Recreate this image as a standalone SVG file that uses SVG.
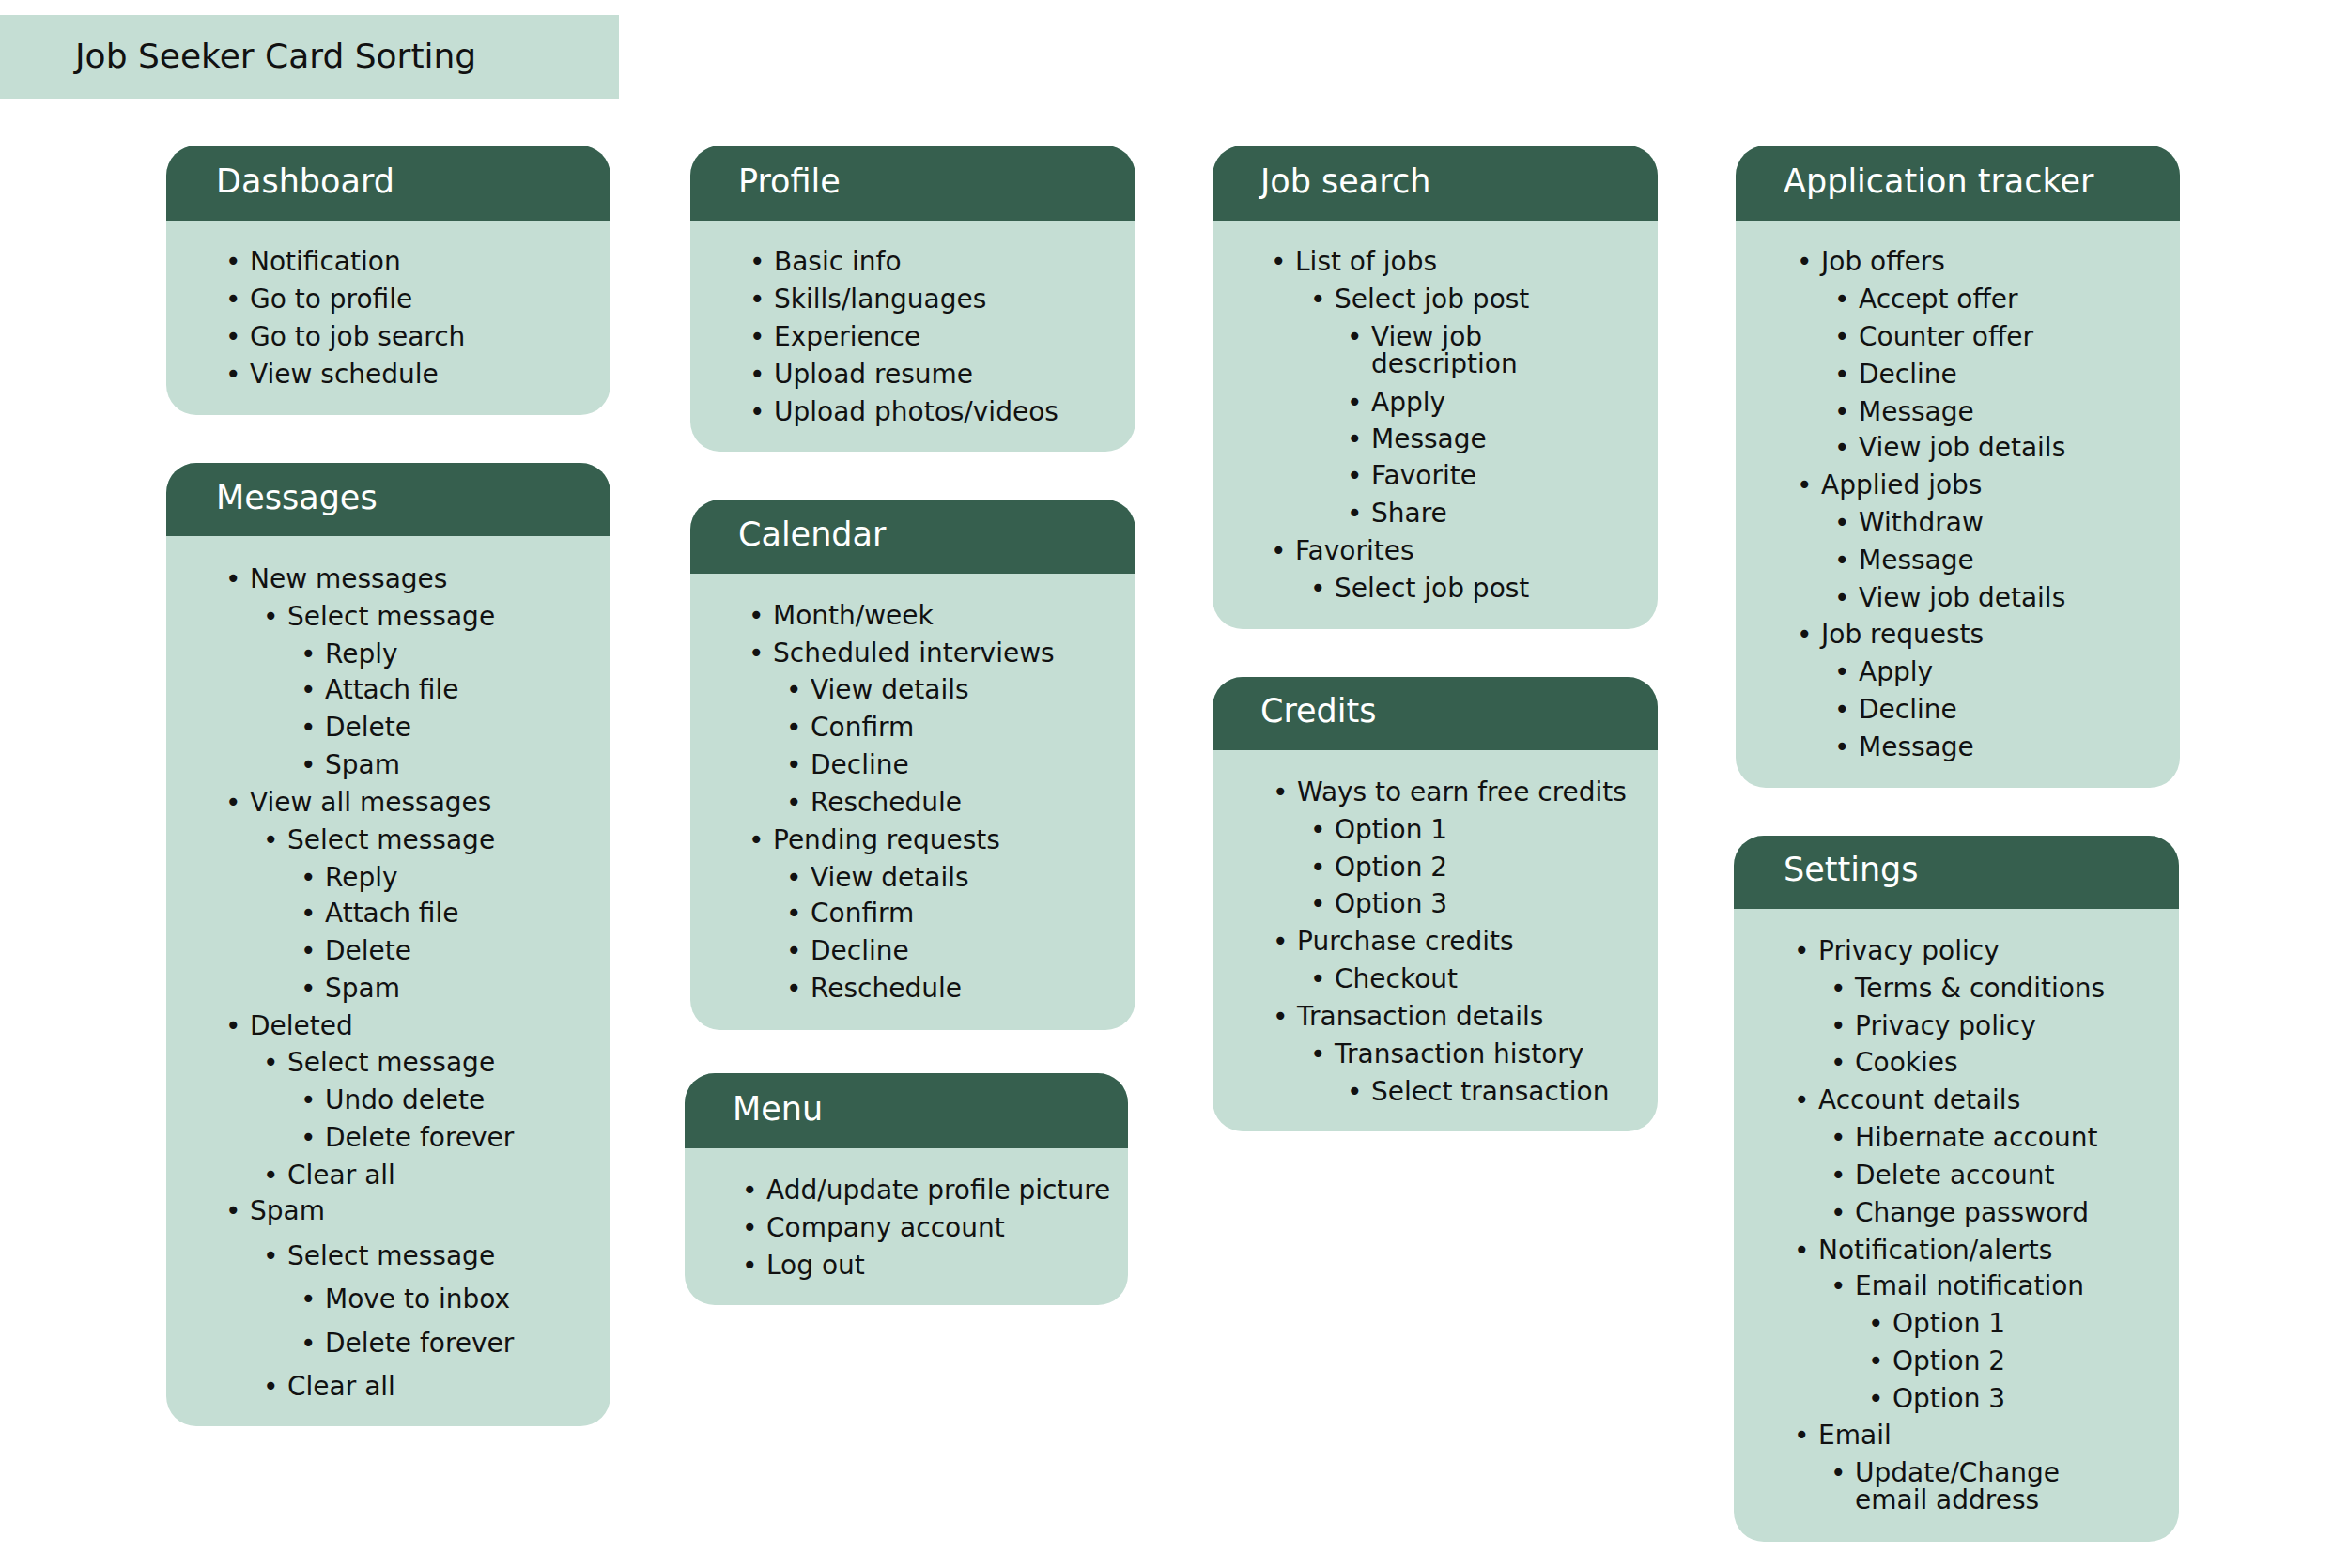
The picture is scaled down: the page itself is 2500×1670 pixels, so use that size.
<svg xmlns="http://www.w3.org/2000/svg" width="2500" height="1670" viewBox="0 0 2500 1670">
<style>
.bg{fill:#ffffff}
.banner{fill:#C5DED4}
.body{fill:#C5DED4}
.head{fill:#365F4E}
.ttl{font-family:"DejaVu Sans",sans-serif;font-size:35px;fill:#ffffff}
.main{font-family:"DejaVu Sans",sans-serif;font-size:36px;fill:#111111}
.it{font-family:"DejaVu Sans",sans-serif;font-size:28px;fill:#111111}
</style>
<rect class="bg" x="0" y="0" width="2500" height="1670"/>
<g id="banner">
<rect class="banner" x="0" y="16" width="659" height="89"/>
<text class="main" x="80" y="72">Job Seeker Card Sorting</text>
</g>
<g id="connectors"/>

<g id="dashboard">
<rect class="body" x="177" y="155" width="473" height="287" rx="32"/>
<path class="head" d="M177,235 V187 a32,32 0 0 1 32,-32 H618 a32,32 0 0 1 32,32 V235 Z"/>
<text class="ttl" x="230" y="205">Dashboard</text>
<text class="it" y="288"><tspan x="240">•</tspan><tspan x="266">Notification</tspan></text>
<text class="it" y="328"><tspan x="240">•</tspan><tspan x="266">Go to profile</tspan></text>
<text class="it" y="368"><tspan x="240">•</tspan><tspan x="266">Go to job search</tspan></text>
<text class="it" y="408"><tspan x="240">•</tspan><tspan x="266">View schedule</tspan></text>
</g>

<g id="messages">
<rect class="body" x="177" y="493" width="473" height="1026" rx="32"/>
<path class="head" d="M177,571 V525 a32,32 0 0 1 32,-32 H618 a32,32 0 0 1 32,32 V571 Z"/>
<text class="ttl" x="230" y="542">Messages</text>
<text class="it" y="626"><tspan x="240">•</tspan><tspan x="266">New messages</tspan></text>
<text class="it" y="666"><tspan x="280">•</tspan><tspan x="306">Select message</tspan></text>
<text class="it" y="706"><tspan x="320">•</tspan><tspan x="346">Reply</tspan></text>
<text class="it" y="744"><tspan x="320">•</tspan><tspan x="346">Attach file</tspan></text>
<text class="it" y="784"><tspan x="320">•</tspan><tspan x="346">Delete</tspan></text>
<text class="it" y="824"><tspan x="320">•</tspan><tspan x="346">Spam</tspan></text>
<text class="it" y="864"><tspan x="240">•</tspan><tspan x="266">View all messages</tspan></text>
<text class="it" y="904"><tspan x="280">•</tspan><tspan x="306">Select message</tspan></text>
<text class="it" y="944"><tspan x="320">•</tspan><tspan x="346">Reply</tspan></text>
<text class="it" y="982"><tspan x="320">•</tspan><tspan x="346">Attach file</tspan></text>
<text class="it" y="1022"><tspan x="320">•</tspan><tspan x="346">Delete</tspan></text>
<text class="it" y="1062"><tspan x="320">•</tspan><tspan x="346">Spam</tspan></text>
<text class="it" y="1102"><tspan x="240">•</tspan><tspan x="266">Deleted</tspan></text>
<text class="it" y="1141"><tspan x="280">•</tspan><tspan x="306">Select message</tspan></text>
<text class="it" y="1181"><tspan x="320">•</tspan><tspan x="346">Undo delete</tspan></text>
<text class="it" y="1221"><tspan x="320">•</tspan><tspan x="346">Delete forever</tspan></text>
<text class="it" y="1261"><tspan x="280">•</tspan><tspan x="306">Clear all</tspan></text>
<text class="it" y="1299"><tspan x="240">•</tspan><tspan x="266">Spam</tspan></text>
<text class="it" y="1347"><tspan x="280">•</tspan><tspan x="306">Select message</tspan></text>
<text class="it" y="1393"><tspan x="320">•</tspan><tspan x="346">Move to inbox</tspan></text>
<text class="it" y="1440"><tspan x="320">•</tspan><tspan x="346">Delete forever</tspan></text>
<text class="it" y="1486"><tspan x="280">•</tspan><tspan x="306">Clear all</tspan></text>
</g>

<g id="profile">
<rect class="body" x="735" y="155" width="474" height="326" rx="32"/>
<path class="head" d="M735,235 V187 a32,32 0 0 1 32,-32 H1177 a32,32 0 0 1 32,32 V235 Z"/>
<text class="ttl" x="786" y="205">Profile</text>
<text class="it" y="288"><tspan x="798">•</tspan><tspan x="824">Basic info</tspan></text>
<text class="it" y="328"><tspan x="798">•</tspan><tspan x="824">Skills/languages</tspan></text>
<text class="it" y="368"><tspan x="798">•</tspan><tspan x="824">Experience</tspan></text>
<text class="it" y="408"><tspan x="798">•</tspan><tspan x="824">Upload resume</tspan></text>
<text class="it" y="448"><tspan x="798">•</tspan><tspan x="824">Upload photos/videos</tspan></text>
</g>

<g id="calendar">
<rect class="body" x="735" y="532" width="474" height="565" rx="32"/>
<path class="head" d="M735,611 V564 a32,32 0 0 1 32,-32 H1177 a32,32 0 0 1 32,32 V611 Z"/>
<text class="ttl" x="786" y="581">Calendar</text>
<text class="it" y="665"><tspan x="797">•</tspan><tspan x="823">Month/week</tspan></text>
<text class="it" y="705"><tspan x="797">•</tspan><tspan x="823">Scheduled interviews</tspan></text>
<text class="it" y="744"><tspan x="837">•</tspan><tspan x="863">View details</tspan></text>
<text class="it" y="784"><tspan x="837">•</tspan><tspan x="863">Confirm</tspan></text>
<text class="it" y="824"><tspan x="837">•</tspan><tspan x="863">Decline</tspan></text>
<text class="it" y="864"><tspan x="837">•</tspan><tspan x="863">Reschedule</tspan></text>
<text class="it" y="904"><tspan x="797">•</tspan><tspan x="823">Pending requests</tspan></text>
<text class="it" y="944"><tspan x="837">•</tspan><tspan x="863">View details</tspan></text>
<text class="it" y="982"><tspan x="837">•</tspan><tspan x="863">Confirm</tspan></text>
<text class="it" y="1022"><tspan x="837">•</tspan><tspan x="863">Decline</tspan></text>
<text class="it" y="1062"><tspan x="837">•</tspan><tspan x="863">Reschedule</tspan></text>
</g>

<g id="menu">
<rect class="body" x="729" y="1143" width="472" height="247" rx="32"/>
<path class="head" d="M729,1223 V1175 a32,32 0 0 1 32,-32 H1169 a32,32 0 0 1 32,32 V1223 Z"/>
<text class="ttl" x="780" y="1193">Menu</text>
<text class="it" y="1277"><tspan x="790">•</tspan><tspan x="816">Add/update profile picture</tspan></text>
<text class="it" y="1317"><tspan x="790">•</tspan><tspan x="816">Company account</tspan></text>
<text class="it" y="1357"><tspan x="790">•</tspan><tspan x="816">Log out</tspan></text>
</g>

<g id="job-search">
<rect class="body" x="1291" y="155" width="474" height="515" rx="32"/>
<path class="head" d="M1291,235 V187 a32,32 0 0 1 32,-32 H1733 a32,32 0 0 1 32,32 V235 Z"/>
<text class="ttl" x="1342" y="205">Job search</text>
<text class="it" y="288"><tspan x="1353">•</tspan><tspan x="1379">List of jobs</tspan></text>
<text class="it" y="328"><tspan x="1395">•</tspan><tspan x="1421">Select job post</tspan></text>
<text class="it" y="368"><tspan x="1434">•</tspan><tspan x="1460">View job</tspan></text>
<text class="it" y="397"><tspan x="1460">description</tspan></text>
<text class="it" y="438"><tspan x="1434">•</tspan><tspan x="1460">Apply</tspan></text>
<text class="it" y="477"><tspan x="1434">•</tspan><tspan x="1460">Message</tspan></text>
<text class="it" y="516"><tspan x="1434">•</tspan><tspan x="1460">Favorite</tspan></text>
<text class="it" y="556"><tspan x="1434">•</tspan><tspan x="1460">Share</tspan></text>
<text class="it" y="596"><tspan x="1353">•</tspan><tspan x="1379">Favorites</tspan></text>
<text class="it" y="636"><tspan x="1395">•</tspan><tspan x="1421">Select job post</tspan></text>
</g>

<g id="credits">
<rect class="body" x="1291" y="721" width="474" height="484" rx="32"/>
<path class="head" d="M1291,799 V753 a32,32 0 0 1 32,-32 H1733 a32,32 0 0 1 32,32 V799 Z"/>
<text class="ttl" x="1342" y="769">Credits</text>
<text class="it" y="853"><tspan x="1355">•</tspan><tspan x="1381">Ways to earn free credits</tspan></text>
<text class="it" y="893"><tspan x="1395">•</tspan><tspan x="1421">Option 1</tspan></text>
<text class="it" y="933"><tspan x="1395">•</tspan><tspan x="1421">Option 2</tspan></text>
<text class="it" y="972"><tspan x="1395">•</tspan><tspan x="1421">Option 3</tspan></text>
<text class="it" y="1012"><tspan x="1355">•</tspan><tspan x="1381">Purchase credits</tspan></text>
<text class="it" y="1052"><tspan x="1395">•</tspan><tspan x="1421">Checkout</tspan></text>
<text class="it" y="1092"><tspan x="1355">•</tspan><tspan x="1381">Transaction details</tspan></text>
<text class="it" y="1132"><tspan x="1395">•</tspan><tspan x="1421">Transaction history</tspan></text>
<text class="it" y="1172"><tspan x="1434">•</tspan><tspan x="1460">Select transaction</tspan></text>
</g>

<g id="application-tracker">
<rect class="body" x="1848" y="155" width="473" height="684" rx="32"/>
<path class="head" d="M1848,235 V187 a32,32 0 0 1 32,-32 H2289 a32,32 0 0 1 32,32 V235 Z"/>
<text class="ttl" x="1899" y="205">Application tracker</text>
<text class="it" y="288"><tspan x="1913">•</tspan><tspan x="1939">Job offers</tspan></text>
<text class="it" y="328"><tspan x="1953">•</tspan><tspan x="1979">Accept offer</tspan></text>
<text class="it" y="368"><tspan x="1953">•</tspan><tspan x="1979">Counter offer</tspan></text>
<text class="it" y="408"><tspan x="1953">•</tspan><tspan x="1979">Decline</tspan></text>
<text class="it" y="448"><tspan x="1953">•</tspan><tspan x="1979">Message</tspan></text>
<text class="it" y="486"><tspan x="1953">•</tspan><tspan x="1979">View job details</tspan></text>
<text class="it" y="526"><tspan x="1913">•</tspan><tspan x="1939">Applied jobs</tspan></text>
<text class="it" y="566"><tspan x="1953">•</tspan><tspan x="1979">Withdraw</tspan></text>
<text class="it" y="606"><tspan x="1953">•</tspan><tspan x="1979">Message</tspan></text>
<text class="it" y="646"><tspan x="1953">•</tspan><tspan x="1979">View job details</tspan></text>
<text class="it" y="685"><tspan x="1913">•</tspan><tspan x="1939">Job requests</tspan></text>
<text class="it" y="725"><tspan x="1953">•</tspan><tspan x="1979">Apply</tspan></text>
<text class="it" y="765"><tspan x="1953">•</tspan><tspan x="1979">Decline</tspan></text>
<text class="it" y="805"><tspan x="1953">•</tspan><tspan x="1979">Message</tspan></text>
</g>

<g id="settings">
<rect class="body" x="1846" y="890" width="474" height="752" rx="32"/>
<path class="head" d="M1846,968 V922 a32,32 0 0 1 32,-32 H2288 a32,32 0 0 1 32,32 V968 Z"/>
<text class="ttl" x="1899" y="938">Settings</text>
<text class="it" y="1022"><tspan x="1910">•</tspan><tspan x="1936">Privacy policy</tspan></text>
<text class="it" y="1062"><tspan x="1949">•</tspan><tspan x="1975">Terms &amp; conditions</tspan></text>
<text class="it" y="1102"><tspan x="1949">•</tspan><tspan x="1975">Privacy policy</tspan></text>
<text class="it" y="1141"><tspan x="1949">•</tspan><tspan x="1975">Cookies</tspan></text>
<text class="it" y="1181"><tspan x="1910">•</tspan><tspan x="1936">Account details</tspan></text>
<text class="it" y="1221"><tspan x="1949">•</tspan><tspan x="1975">Hibernate account</tspan></text>
<text class="it" y="1261"><tspan x="1949">•</tspan><tspan x="1975">Delete account</tspan></text>
<text class="it" y="1301"><tspan x="1949">•</tspan><tspan x="1975">Change password</tspan></text>
<text class="it" y="1341"><tspan x="1910">•</tspan><tspan x="1936">Notification/alerts</tspan></text>
<text class="it" y="1379"><tspan x="1949">•</tspan><tspan x="1975">Email notification</tspan></text>
<text class="it" y="1419"><tspan x="1989">•</tspan><tspan x="2015">Option 1</tspan></text>
<text class="it" y="1459"><tspan x="1989">•</tspan><tspan x="2015">Option 2</tspan></text>
<text class="it" y="1499"><tspan x="1989">•</tspan><tspan x="2015">Option 3</tspan></text>
<text class="it" y="1538"><tspan x="1910">•</tspan><tspan x="1936">Email</tspan></text>
<text class="it" y="1578"><tspan x="1949">•</tspan><tspan x="1975">Update/Change</tspan></text>
<text class="it" y="1607"><tspan x="1975">email address</tspan></text>
</g>
</svg>
